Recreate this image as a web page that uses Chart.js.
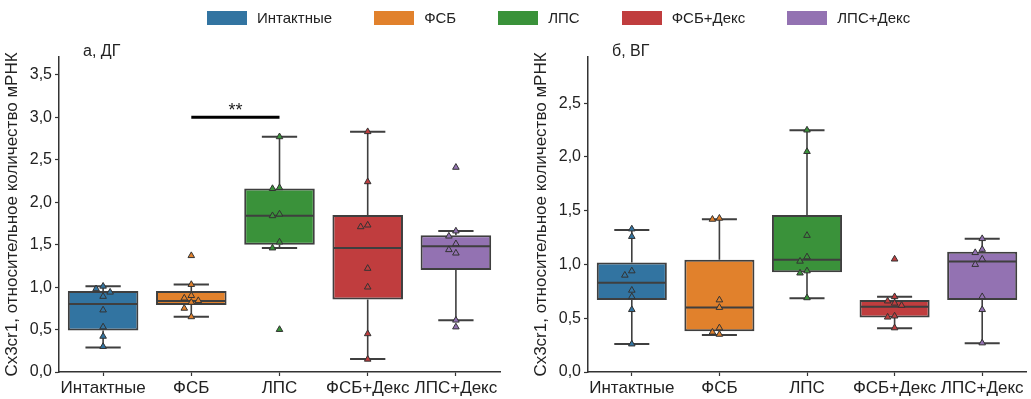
<!DOCTYPE html>
<html>
<head>
<meta charset="utf-8">
<script src="https://cdn.jsdelivr.net/npm/chart.js@4"></script>
<style>
  body { margin: 0; background: #fff; width: 1031px; height: 399px; overflow: hidden; position: relative;
         font-family: "Liberation Sans", Arial, sans-serif; }
  canvas { position: absolute; top: 0; }
  #left { left: 0; }
  #right { left: 529px; }
  #legend { position: absolute; top: 9px; left: 207px; display: flex; align-items: center; font-size: 15px; color: #222; z-index: 2; }
  #legend .item { display: flex; align-items: center; margin-right: 42px; }
  #legend .sw { width: 40px; height: 14px; margin-right: 10px; }
</style>
</head>
<body>
<div id="legend"></div>
<canvas id="left" width="515" height="399"></canvas>
<canvas id="right" width="502" height="399"></canvas>
<script>
// --- данные ---
const categories = ['Интактные', 'ФСБ', 'ЛПС', 'ФСБ+Декс', 'ЛПС+Декс'];
const colors = ['#3274a1', '#e1812c', '#3a923a', '#c03d3e', '#9372b2'];
const yTitle = 'Cx3cr1, относительное количество мРНК';

// а, ДГ
const dgQ1 = [0.49, 0.79, 1.50, 0.855, 1.20];
const dgMedian = [0.80, 0.835, 1.84, 1.46, 1.48];
const dgQ3 = [0.953, 0.953, 2.16, 1.85, 1.61];
const dgWhiskerLow = [0.29, 0.65, 1.46, 0.153, 0.61];
const dgWhiskerHigh = [1.01, 1.03, 2.77, 2.83, 1.66];
const dgPoints = [
    [1.01, 0.98, 0.94, 0.89, 0.73, 0.53, 0.42, 0.30],
    [1.37, 1.03, 0.90, 0.87, 0.84, 0.82, 0.75, 0.65],
    [2.77, 2.17, 2.16, 1.86, 1.84, 1.53, 1.46, 0.50],
    [2.83, 2.24, 1.73, 1.71, 1.22, 1.00, 0.45, 0.15],
    [2.41, 1.66, 1.60, 1.51, 1.44, 1.40, 0.61, 0.53]
];
const dgTicks = [0, 0.5, 1, 1.5, 2, 2.5, 3, 3.5];
const dgMax = 3.71;
const dgSig = { from: 1, to: 2, y: 3.0, label: '**' };

// б, ВГ
const vgQ1 = [0.67, 0.38, 0.928, 0.508, 0.67];
const vgMedian = [0.83, 0.60, 1.043, 0.607, 1.027];
const vgQ3 = [1.018, 1.043, 1.46, 0.67, 1.118];
const vgWhiskerLow = [0.26, 0.345, 0.685, 0.408, 0.268];
const vgWhiskerHigh = [1.32, 1.42, 2.248, 0.70, 1.24];
const vgPoints = [
    [1.33, 1.26, 0.94, 0.90, 0.76, 0.70, 0.58, 0.26],
    [1.43, 1.42, 0.67, 0.60, 0.41, 0.37, 0.35],
    [2.25, 2.05, 1.27, 1.07, 1.03, 0.94, 0.92, 0.69],
    [1.05, 0.70, 0.66, 0.64, 0.62, 0.52, 0.51, 0.41],
    [1.24, 1.14, 1.11, 1.05, 1.00, 0.70, 0.58, 0.27]
];
const vgTicks = [0, 0.5, 1, 1.5, 2, 2.5];
const vgMax = 2.93;

const FONT = '"Liberation Sans", Arial, sans-serif';
const LINE = '#3f3f3f';

// --- легенда ---
const legend = document.getElementById('legend');
categories.forEach((c, i) => {
    const item = document.createElement('div');
    item.className = 'item';
    item.innerHTML = `<div class="sw" style="background:${colors[i]}"></div><span>${c}</span>`;
    legend.appendChild(item);
});

// простое раздвижение совпадающих точек (как swarmplot)
function swarm(values, pxPerUnit) {
    const placed = [];
    const step = 7 / 88;
    return values.map(v => {
        let slot = 0;
        for (const o of [0, -1, 1, -2, 2]) {
            const clash = placed.some(p => p.o === o && Math.abs(p.v - v) * pxPerUnit < 6);
            if (!clash) { slot = o; break; }
        }
        placed.push({ v, o: slot });
        return slot * step;
    });
}

// усы, медианы, подпись панели, значимость
const boxParts = {
    id: 'boxParts',
    beforeDatasetsDraw(chart, args, o) {
        const { ctx, scales: { x, y } } = chart;
        const band = x.width / categories.length;
        ctx.save();
        ctx.strokeStyle = LINE;
        categories.forEach((c, i) => {
            const cx = x.getPixelForValue(i);
            ctx.lineWidth = 1.6;
            ctx.beginPath();
            ctx.moveTo(cx, y.getPixelForValue(o.q1[i]));
            ctx.lineTo(cx, y.getPixelForValue(o.low[i]));
            ctx.moveTo(cx, y.getPixelForValue(o.q3[i]));
            ctx.lineTo(cx, y.getPixelForValue(o.high[i]));
            ctx.stroke();
            ctx.lineWidth = 2;
            ctx.beginPath();
            [o.low[i], o.high[i]].forEach(v => {
                const py = y.getPixelForValue(v);
                ctx.moveTo(cx - band * 0.2, py);
                ctx.lineTo(cx + band * 0.2, py);
            });
            ctx.stroke();
        });
        ctx.restore();
    },
    afterDatasetDraw(chart, args, o) {
        if (args.index !== 0) return;
        const { ctx, scales: { x, y } } = chart;
        const band = x.width / categories.length;
        ctx.save();
        ctx.strokeStyle = LINE;
        ctx.lineWidth = 2;
        categories.forEach((c, i) => {
            const cx = x.getPixelForValue(i);
            const py = y.getPixelForValue(o.median[i]);
            ctx.beginPath();
            ctx.moveTo(cx - band * 0.4 + 1, py);
            ctx.lineTo(cx + band * 0.4 - 1, py);
            ctx.stroke();
        });
        ctx.restore();
    },
    afterDraw(chart, args, o) {
        const { ctx, chartArea, scales: { x, y } } = chart;
        ctx.save();
        ctx.fillStyle = '#222';
        ctx.font = `16px ${FONT}`;
        ctx.textBaseline = 'alphabetic';
        ctx.fillText(o.title, chartArea.left + 24, 56);
        if (o.sig) {
            const py = y.getPixelForValue(o.sig.y);
            ctx.strokeStyle = '#000';
            ctx.lineWidth = 3;
            ctx.beginPath();
            ctx.moveTo(x.getPixelForValue(o.sig.from), py);
            ctx.lineTo(x.getPixelForValue(o.sig.to), py);
            ctx.stroke();
            ctx.fillStyle = '#222';
            ctx.font = `18px ${FONT}`;
            ctx.textAlign = 'center';
            ctx.fillText(o.sig.label, (x.getPixelForValue(o.sig.from) + x.getPixelForValue(o.sig.to)) / 2, py - 1);
        }
        ctx.restore();
    }
};

function makePanel(id, title, q1, median, q3, low, high, points, ticks, yMax, sig, padRight) {
    const pxPerUnit = 315 / yMax;
    const scatter = [];
    const pointColors = [];
    points.forEach((vals, i) => {
        const dx = swarm(vals, pxPerUnit);
        vals.forEach((v, k) => {
            scatter.push({ x: i + dx[k], y: v });
            pointColors.push(colors[i]);
        });
    });

    new Chart(document.getElementById(id), {
        data: {
            labels: categories,
            datasets: [
                {
                    type: 'bar',
                    data: categories.map((c, i) => [q1[i], q3[i]]),
                    backgroundColor: colors,
                    borderColor: LINE,
                    borderWidth: 2,
                    borderSkipped: false,
                    grouped: false,
                    barPercentage: 0.8,
                    categoryPercentage: 1,
                    order: 1
                },
                {
                    type: 'scatter',
                    xAxisID: 'xp',
                    data: scatter,
                    pointStyle: 'triangle',
                    pointRadius: 3.8,
                    backgroundColor: pointColors,
                    borderColor: '#333',
                    borderWidth: 1,
                    order: 0
                }
            ]
        },
        options: {
            responsive: false,
            animation: false,
            layout: { padding: { top: 57, right: padRight, bottom: 0, left: 0 } },
            plugins: {
                legend: { display: false },
                tooltip: { enabled: false },
                boxParts: { title, q1, median, q3, low, high, sig }
            },
            scales: {
                x: {
                    type: 'category',
                    offset: true,
                    afterFit: s => { s.height = 27; },
                    grid: { display: true, drawOnChartArea: false, offset: false, tickLength: 4, color: '#333', tickWidth: 1.2 },
                    border: { color: '#333', width: 1.5 },
                    ticks: { color: '#222', font: { size: 17, family: FONT }, padding: 2, maxRotation: 0, autoSkip: false }
                },
                xp: { type: 'linear', display: false, offset: false, min: -0.5, max: 4.5 },
                y: {
                    min: 0,
                    max: yMax,
                    afterBuildTicks: s => { s.ticks = ticks.map(v => ({ value: v })); },
                    afterFit: s => { s.width = 59; },
                    grid: { display: true, drawOnChartArea: false, tickLength: 4, color: '#333', tickWidth: 1.2 },
                    border: { color: '#333', width: 1.5 },
                    ticks: { color: '#222', font: { size: 16, family: FONT }, padding: 3,
                             callback: v => v.toFixed(1).replace('.', ',') },
                    title: { display: true, text: yTitle, color: '#222', font: { size: 17, family: FONT }, padding: { top: 2, bottom: 0 } }
                }
            }
        },
        plugins: [boxParts]
    });
}

makePanel('left', 'а, ДГ', dgQ1, dgMedian, dgQ3, dgWhiskerLow, dgWhiskerHigh, dgPoints, dgTicks, dgMax, dgSig, 15);
makePanel('right', 'б, ВГ', vgQ1, vgMedian, vgQ3, vgWhiskerLow, vgWhiskerHigh, vgPoints, vgTicks, vgMax, null, 3);
</script>
</body>
</html>
